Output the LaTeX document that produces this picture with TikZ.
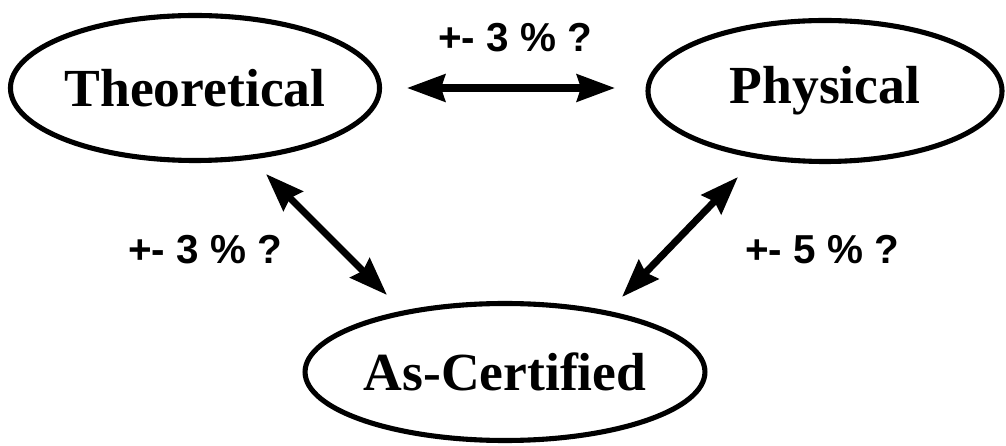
\documentclass[tikz,border=0pt]{standalone}
\usepackage{fontspec}
\setmainfont{Liberation Serif}
\setsansfont{Liberation Sans}
\usepackage{tikz}
\usetikzlibrary{arrows.meta,shapes.geometric,calc}
\tikzset{
  level/.style={ellipse,draw=black,line width=2.9pt,inner sep=0pt,
    font=\rmfamily\bfseries\fontsize{30.5}{30.5}\selectfont},
  link/.style={{Stealth[length=0.76cm,width=0.54cm,inset=0.08cm]}-{Stealth[length=0.76cm,width=0.54cm,inset=0.08cm]},line width=4pt},
  tol/.style={font=\sffamily\bfseries\fontsize{23}{23}\selectfont},
}
\begin{document}
\begin{tikzpicture}[x=1cm,y=1cm]
  \useasboundingbox (0,0) rectangle (20.12,8.92);
  \node[level,minimum width=7.38cm,minimum height=2.9cm] (theo) at (3.90,7.16) {Theoretical};
  \node[level,minimum width=7.08cm,minimum height=2.82cm] (phys) at (16.50,7.10) {Physical};
  \node[level,minimum width=7.22cm,minimum height=2.74cm] (cert) at (10.10,1.48) {As-Certified};
  \coordinate (tp1) at ($(theo)+(4.24,0)$);
  \coordinate (tp2) at ($(phys)+(-4.20,0.06)$);
  \coordinate (tc1) at ($(theo)+(1.42,-1.72)$);
  \coordinate (tc2) at ($(cert)+(-2.36,1.54)$);
  \coordinate (pc1) at ($(phys)+(-1.74,-1.72)$);
  \coordinate (pc2) at ($(cert)+(2.34,1.50)$);
  \draw[link] (tp1) -- (tp2);
  \draw[link] (tc1) -- (tc2);
  \draw[link] (pc1) -- (pc2);
  \node[tol] (tptol) at (10.30,8.16) {+- 3 \% ?};
  \node[tol] (tctol) at (4.10,3.92) {+- 3 \% ?};
  \node[tol] (pctol) at (16.44,3.92) {+- 5 \% ?};
\end{tikzpicture}
\end{document}
